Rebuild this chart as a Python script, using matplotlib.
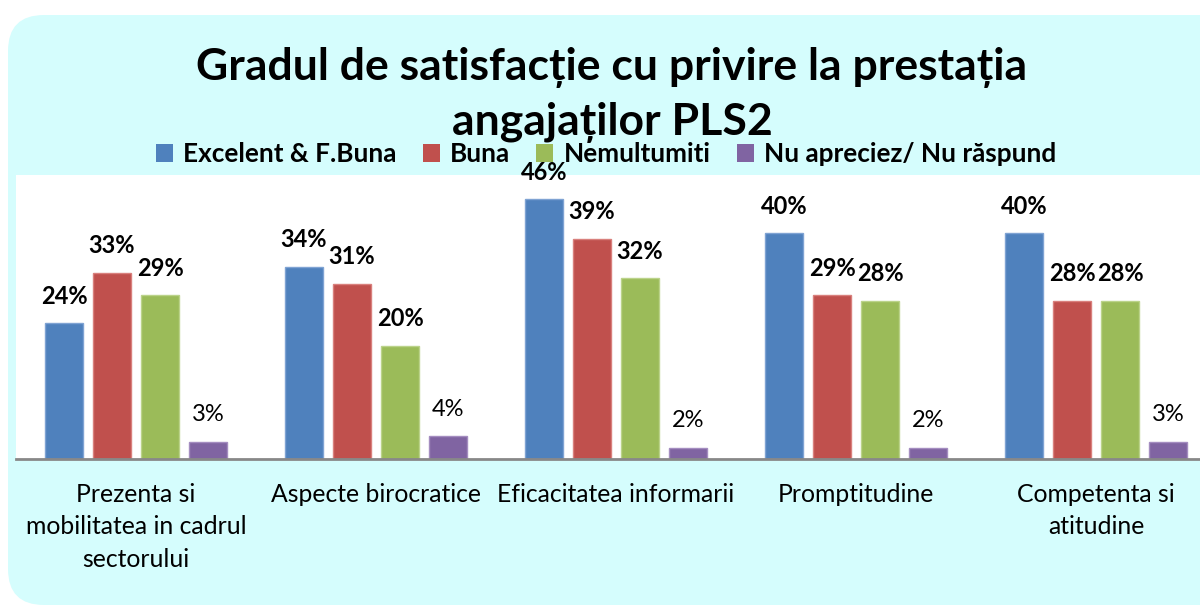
import matplotlib
matplotlib.use("Agg")
import matplotlib.pyplot as plt
import numpy as np
from matplotlib.patches import FancyBboxPatch, Patch

plt.rcParams['font.family'] = ['Lato', 'DejaVu Sans']

categories = ["Prezenta si\nmobilitatea in cadrul\nsectorului", "Aspecte birocratice",
              "Eficacitatea informarii", "Promptitudine", "Competenta si\natitudine"]
series = ["Excelent & F.Buna", "Buna", "Nemultumiti", "Nu apreciez/ Nu răspund"]
excelent = [24, 34, 46, 40, 40]
buna = [33, 31, 39, 29, 28]
nemultumiti = [29, 20, 32, 28, 28]
nu_raspund = [3, 4, 2, 2, 3]
values = [excelent, buna, nemultumiti, nu_raspund]
colors = ["#4F81BD", "#C0504D", "#9BBB59", "#8064A2"]
edges = ["#7FA3D3", "#D9807D", "#BBD38A", "#A48DC0"]

fig = plt.figure(figsize=(12, 6.1), dpi=100)
fig.patch.set_facecolor("white")

# rounded cyan background
bg = FancyBboxPatch((8 / 1200, 5 / 610), 1.2, 590 / 610,
                    boxstyle="round,pad=0,rounding_size=0.03",
                    transform=fig.transFigure, facecolor="#D5FDFD",
                    edgecolor="none", mutation_aspect=1200 / 610, zorder=-5)
fig.patches.append(bg)

ax = fig.add_axes([16 / 1200, 1 - 459 / 610, 1200 / 1200, 284 / 610])
ax.set_zorder(2)
ax.set_facecolor("white")

x = np.arange(len(categories))
width = 0.158
offsets = [-0.3, -0.1, 0.1, 0.3]
for i, (vals, col, ec) in enumerate(zip(values, colors, edges)):
    bars = ax.bar(x + offsets[i], vals, width, color=col, edgecolor=ec, linewidth=1, zorder=2)
    for b, v in zip(bars, vals):
        ax.annotate(f"{v}%", (b.get_x() + b.get_width() / 2, v),
                    xytext=(0, 19.5), textcoords="offset points",
                    ha="center", va="center", fontsize=17,
                    fontweight="normal" if i == 3 else "bold")

ax.set_xlim(-0.5, 4.5)
ax.set_ylim(0, 50.3)
ax.set_yticks([])
ax.set_xticks(x)
ax.set_xticklabels(categories, fontsize=17.8, linespacing=1.5)
ax.tick_params(axis="x", length=0, pad=17)
for s in ["top", "right", "left"]:
    ax.spines[s].set_visible(False)
ax.spines["bottom"].set_color("#888888")
ax.spines["bottom"].set_linewidth(2)

fig.text(0.51, 1 - 67 / 610, "Gradul de satisfacție cu privire la prestația",
         ha="center", va="center", fontsize=32, fontweight="bold")
fig.text(0.51, 1 - 123 / 610, "angajaților PLS2",
         ha="center", va="center", fontsize=32, fontweight="bold")

handles = [Patch(facecolor=c, edgecolor="none") for c in colors]
fig.legend(handles, series, loc="center", bbox_to_anchor=(0.505, 1 - 154 / 610),
           ncol=4, frameon=False, prop={"weight": "bold", "size": 18.8},
           handlelength=0.65, handleheight=0.65, handletextpad=0.4, columnspacing=1.0)

fig.savefig("out.png", dpi=100)
